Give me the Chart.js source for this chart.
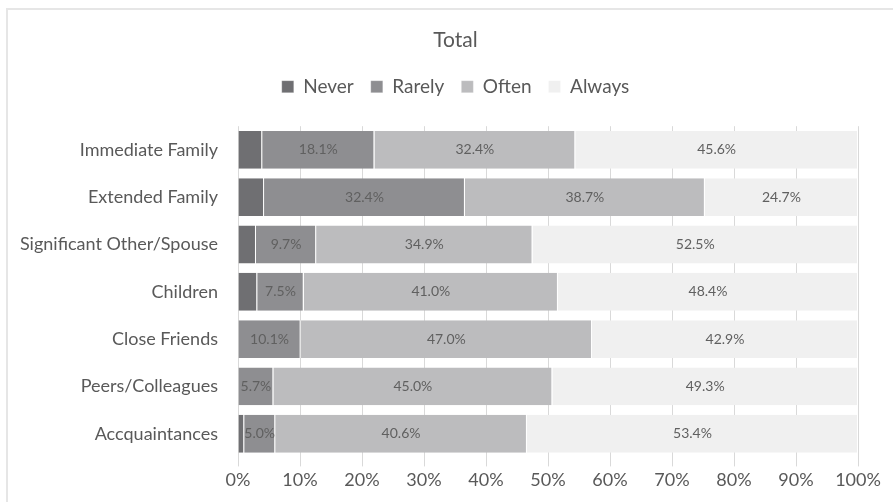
<!DOCTYPE html>
<html>
<head>
<meta charset="utf-8">
<script src="https://cdn.jsdelivr.net/npm/chart.js@4"></script>
<style>
  html, body { margin: 0; padding: 0; background: #fff; overflow: hidden; }
  #frame {
    position: absolute; left: 6px; top: 8px;
    width: 900px; height: 510px;
    border: 2px solid #e6e6e6;
  }
  #wrap { position: absolute; left: 0; top: 0; width: 885px; height: 492px; }
</style>
</head>
<body>
<div id="frame"><div id="wrap"><canvas id="barChart"></canvas></div></div>
<script>
// Categories and answer shares (percent of respondents)
var categories = ['Immediate Family', 'Extended Family', 'Significant Other/Spouse', 'Children', 'Close Friends', 'Peers/Colleagues', 'Accquaintances'];
var never   = [3.9, 4.2, 2.9, 3.1, 0.0, 0.0, 1.0];
var rarely  = [18.1, 32.4, 9.7, 7.5, 10.1, 5.7, 5.0];
var often   = [32.4, 38.7, 34.9, 41.0, 47.0, 45.0, 40.6];
var always  = [45.6, 24.7, 52.5, 48.4, 42.9, 49.3, 53.4];
var xTicks  = [0, 10, 20, 30, 40, 50, 60, 70, 80, 90, 100];

var fontFamily = 'Lato, "Open Sans", sans-serif';
var textColor = '#595959';

// writes the value in the middle of each segment (Never is left unlabelled)
var segmentLabels = {
    id: 'segmentLabels',
    afterDatasetsDraw: function(chart) {
        var ctx = chart.ctx;
        ctx.save();
        ctx.font = '14px ' + fontFamily;
        ctx.fillStyle = '#606060';
        ctx.textAlign = 'center';
        ctx.textBaseline = 'middle';
        chart.data.datasets.forEach(function(ds, i) {
            if (i === 0) return;
            chart.getDatasetMeta(i).data.forEach(function(bar, j) {
                var v = ds.data[j];
                if (!v) return;
                ctx.fillText(v.toFixed(1) + '%', (bar.x + bar.base) / 2, bar.y);
            });
        });
        ctx.restore();
    }
};

// more room between the legend and the bars
var legendGap = {
    id: 'legendGap',
    beforeInit: function(chart) {
        var fit = chart.legend.fit;
        chart.legend.fit = function() {
            fit.bind(chart.legend)();
            this.height += 20;
        };
    }
};

window.onload = function() {
    var ctx = document.getElementById('barChart').getContext('2d');
    var seg = function(label, data, color) {
        return {
            label: label,
            data: data,
            backgroundColor: color,
            borderColor: '#ffffff',
            borderWidth: { right: 1 },
            borderSkipped: false,
            barPercentage: 0.8,
            categoryPercentage: 1.0
        };
    };
    var barChart = new Chart(ctx, {
        type: 'bar',
        data: {
            labels: categories,
            datasets: [
                seg('Never', never, '#6f6f72'),
                seg('Rarely', rarely, '#8e8e91'),
                seg('Often', often, '#bcbcbe'),
                seg('Always', always, '#f0f0f0')
            ]
        },
        options: {
            indexAxis: 'y',
            responsive: true,
            maintainAspectRatio: false,
            animation: false,
            layout: { padding: { left: 10, right: 0, top: 12, bottom: 8 } },
            plugins: {
                title: {
                    display: true,
                    text: 'Total',
                    color: textColor,
                    font: { family: fontFamily, size: 21, weight: 'normal' },
                    padding: { top: 6, bottom: 7 }
                },
                legend: {
                    position: 'top',
                    labels: {
                        color: textColor,
                        font: { family: fontFamily, size: 19 },
                        boxWidth: 12,
                        boxHeight: 12,
                        padding: 17,
                        useBorderRadius: false
                    }
                },
                tooltip: { enabled: false }
            },
            scales: {
                x: {
                    stacked: true,
                    min: 0,
                    max: 100,
                    afterBuildTicks: function(scale) {
                        scale.ticks = xTicks.map(function(v) { return { value: v }; });
                    },
                    afterFit: function(scale) { scale.paddingRight = 35; },
                    ticks: {
                        color: textColor,
                        font: { family: fontFamily, size: 18 },
                        padding: 3,
                        callback: function(v) { return v + '%'; }
                    },
                    grid: { color: '#d9d9d9', drawTicks: true, tickLength: 9 },
                    border: { display: false }
                },
                y: {
                    stacked: true,
                    afterFit: function(scale) { scale.width = 220; },
                    ticks: {
                        color: textColor,
                        font: { family: fontFamily, size: 18 },
                        padding: 12
                    },
                    grid: { display: false },
                    border: { display: false }
                }
            }
        },
        plugins: [segmentLabels, legendGap]
    });
};
</script>
</body>
</html>
